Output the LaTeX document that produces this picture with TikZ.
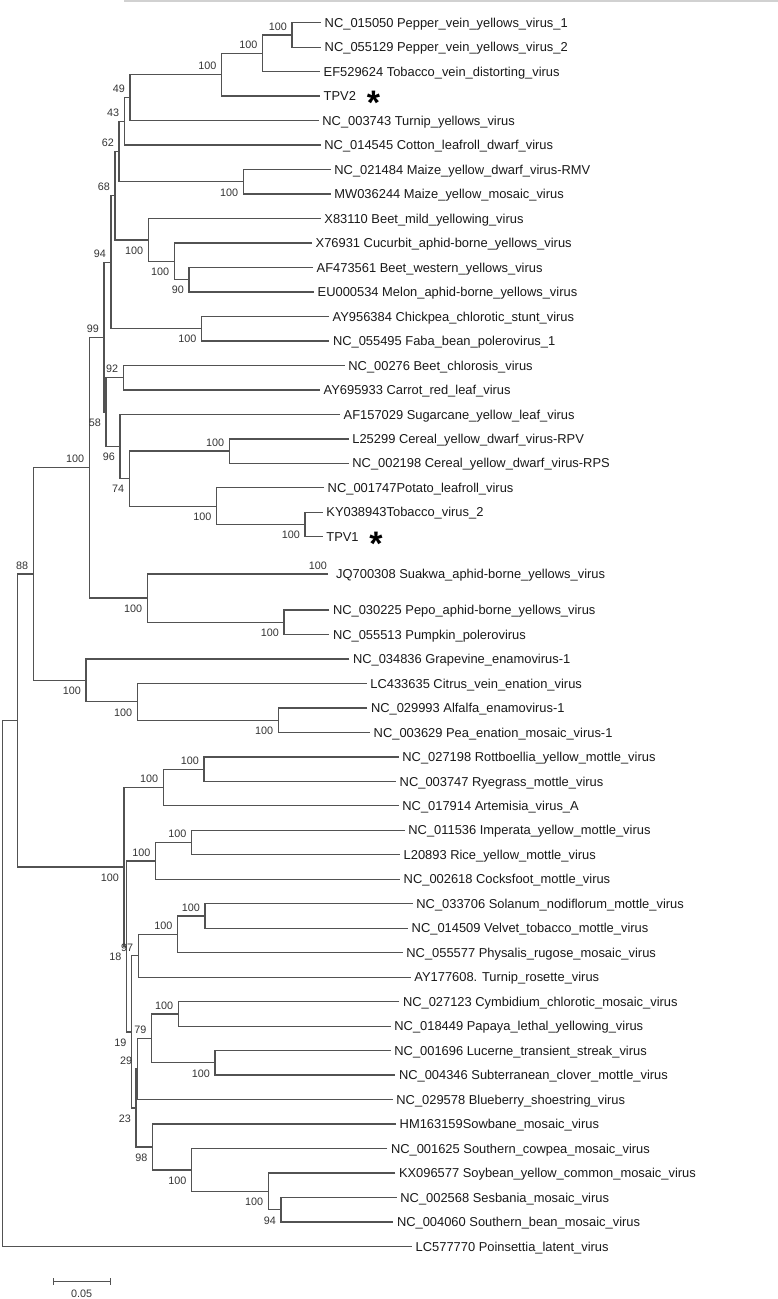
\documentclass[tikz,border=0pt]{standalone}
\usepackage{fontspec}
\setmainfont{Liberation Sans}
\tikzset{br/.style={line width=1.25pt,black!68},
taxon/.style={anchor=west,inner xsep=3.5pt,inner ysep=0pt,text height=9.2pt,text depth=0pt,font=\fontsize{12.9}{14}\selectfont,text=black!90},
bs/.style={inner sep=0pt,font=\fontsize{10.8}{12}\selectfont,text=black!80},
bsup/.style={bs,anchor=south east,xshift=-5pt,yshift=4.5pt},
bsdn/.style={bs,anchor=north east,xshift=-5pt,yshift=-6.5pt},
tpvmark/.style={inner sep=0pt,anchor=base,font=\fontsize{34}{34}\selectfont\bfseries}}
\begin{document}
\begin{tikzpicture}[x=1pt,y=-1pt]
\useasboundingbox (0,0) rectangle (778,1299);
% taxa
\node[taxon] (t1) at (321,22.7) {NC\_015050 Pepper\_vein\_yellows\_virus\_1};
\node[taxon] (t2) at (321,47.2) {NC\_055129 Pepper\_vein\_yellows\_virus\_2};
\node[taxon] (t3) at (320,71.7) {EF529624 Tobacco\_vein\_distorting\_virus};
\node[taxon] (t4) at (320,96.1) {TPV2};
\node[taxon] (t5) at (318.7,120.6) {NC\_003743 Turnip\_yellows\_virus};
\node[taxon] (t6) at (320.7,145.1) {NC\_014545 Cotton\_leafroll\_dwarf\_virus};
\node[taxon] (t7) at (330.7,169.6) {NC\_021484 Maize\_yellow\_dwarf\_virus-RMV};
\node[taxon] (t8) at (330.7,194.1) {MW036244 Maize\_yellow\_mosaic\_virus};
\node[taxon] (t9) at (320.7,218.5) {X83110 Beet\_mild\_yellowing\_virus};
\node[taxon] (t10) at (312,243) {X76931 Cucurbit\_aphid-borne\_yellows\_virus};
\node[taxon] (t11) at (313,267.5) {AF473561 Beet\_western\_yellows\_virus};
\node[taxon] (t12) at (314,292) {EU000534 Melon\_aphid-borne\_yellows\_virus};
\node[taxon] (t13) at (329,316.5) {AY956384 Chickpea\_chlorotic\_stunt\_virus};
\node[taxon] (t14) at (329.3,340.9) {NC\_055495 Faba\_bean\_polerovirus\_1};
\node[taxon] (t15) at (344.7,365.4) {NC\_00276 Beet\_chlorosis\_virus};
\node[taxon] (t16) at (320,389.9) {AY695933 Carrot\_red\_leaf\_virus};
\node[taxon] (t17) at (340,414.4) {AF157029 Sugarcane\_yellow\_leaf\_virus};
\node[taxon] (t18) at (348.7,438.9) {L25299 Cereal\_yellow\_dwarf\_virus-RPV};
\node[taxon] (t19) at (348.7,463.3) {NC\_002198 Cereal\_yellow\_dwarf\_virus-RPS};
\node[taxon] (t20) at (324,487.8) {NC\_001747Potato\_leafroll\_virus};
\node[taxon] (t21) at (322.7,512.3) {KY038943Tobacco\_virus\_2};
\node[taxon] (t22) at (322.7,536.8) {TPV1};
\node[taxon,inner xsep=8pt] (t23) at (328,574) {JQ700308 Suakwa\_aphid-borne\_yellows\_virus};
\node[taxon] (t24) at (329.3,610) {NC\_030225 Pepo\_aphid-borne\_yellows\_virus};
\node[taxon] (t25) at (329.3,634.5) {NC\_055513 Pumpkin\_polerovirus};
\node[taxon] (t26) at (349.3,659) {NC\_034836 Grapevine\_enamovirus-1};
\node[taxon] (t27) at (366.7,683.4) {LC433635 Citrus\_vein\_enation\_virus};
\node[taxon] (t28) at (367.3,707.9) {NC\_029993 Alfalfa\_enamovirus-1};
\node[taxon] (t29) at (370,732.4) {NC\_003629 Pea\_enation\_mosaic\_virus-1};
\node[taxon] (t30) at (398.7,756.9) {NC\_027198 Rottboellia\_yellow\_mottle\_virus};
\node[taxon] (t31) at (396,781.4) {NC\_003747 Ryegrass\_mottle\_virus};
\node[taxon] (t32) at (398.7,805.8) {NC\_017914 Artemisia\_virus\_A};
\node[taxon] (t33) at (404.7,830.3) {NC\_011536 Imperata\_yellow\_mottle\_virus};
\node[taxon] (t34) at (400,854.8) {L20893 Rice\_yellow\_mottle\_virus};
\node[taxon] (t35) at (400,879.3) {NC\_002618 Cocksfoot\_mottle\_virus};
\node[taxon] (t36) at (412.7,903.8) {NC\_033706 Solanum\_nodiflorum\_mottle\_virus};
\node[taxon] (t37) at (408,928.2) {NC\_014509 Velvet\_tobacco\_mottle\_virus};
\node[taxon] (t38) at (402.7,952.7) {NC\_055577 Physalis\_rugose\_mosaic\_virus};
\node[taxon] (t39) at (410.7,977.2) {AY177608. Turnip\_rosette\_virus};
\node[taxon] (t40) at (399.3,1001.7) {NC\_027123 Cymbidium\_chlorotic\_mosaic\_virus};
\node[taxon] (t41) at (390.7,1026.2) {NC\_018449 Papaya\_lethal\_yellowing\_virus};
\node[taxon] (t42) at (390.7,1050.6) {NC\_001696 Lucerne\_transient\_streak\_virus};
\node[taxon] (t43) at (395.3,1075.1) {NC\_004346 Subterranean\_clover\_mottle\_virus};
\node[taxon] (t44) at (392.7,1099.6) {NC\_029578 Blueberry\_shoestring\_virus};
\node[taxon] (t45) at (396,1124.1) {HM163159Sowbane\_mosaic\_virus};
\node[taxon] (t46) at (387.3,1148.6) {NC\_001625 Southern\_cowpea\_mosaic\_virus};
\node[taxon] (t47) at (395.3,1173) {KX096577 Soybean\_yellow\_common\_mosaic\_virus};
\node[taxon] (t48) at (396.7,1197.5) {NC\_002568 Sesbania\_mosaic\_virus};
\node[taxon] (t49) at (393.3,1222) {NC\_004060 Southern\_bean\_mosaic\_virus};
\node[taxon] (t50) at (412,1246.5) {LC577770 Poinsettia\_latent\_virus};
\node[tpvmark] (mk2) at (373.5,114.8) {*};
\node[tpvmark] (mk1) at (376,555.5) {*};
% inner nodes
\coordinate (nA) at (292,34.95);
\coordinate (nB) at (262.7,53.3);
\coordinate (nC) at (221.7,74.7);
\coordinate (nD) at (130,97.65);
\coordinate (nE) at (124.3,121.4);
\coordinate (nG) at (243.3,181.85);
\coordinate (nF) at (119,151.6);
\coordinate (nK) at (189,279.75);
\coordinate (nJ) at (174.3,261.4);
\coordinate (nI) at (148.3,239.95);
\coordinate (nH) at (115,195.8);
\coordinate (nL) at (201.7,328.7);
\coordinate (nM) at (111,262.25);
\coordinate (nQ) at (123.3,377.65);
\coordinate (nT) at (229.3,451.1);
\coordinate (nV) at (305,524.55);
\coordinate (nU) at (216.7,506.2);
\coordinate (nS) at (129.3,478.65);
\coordinate (nR) at (120,446.5);
\coordinate (nP) at (106,412.1);
\coordinate (nN) at (104,337.2);
\coordinate (nX) at (284,622.25);
\coordinate (nW) at (147.3,598.1);
\coordinate (nY) at (89.3,467.65);
\coordinate (nAC) at (278.3,720.15);
\coordinate (nAB) at (137.3,701.8);
\coordinate (nAA) at (86,680.4);
\coordinate (nZ) at (33.3,574);
\coordinate (nAG) at (204,769.15);
\coordinate (nAF) at (163.3,787.5);
\coordinate (nAI) at (191.7,842.55);
\coordinate (nAH) at (155.7,860.9);
\coordinate (nAJ) at (205,916);
\coordinate (nAK) at (177.7,934.35);
\coordinate (nAL) at (138.3,955.8);
\coordinate (nAN) at (178.3,1013.95);
\coordinate (nAO) at (215,1062.85);
\coordinate (nAM) at (151.7,1038.4);
\coordinate (nAP) at (137.3,1069);
\coordinate (nAT) at (281,1209.75);
\coordinate (nAS) at (268.3,1191.4);
\coordinate (nAR) at (191.7,1170);
\coordinate (nAQ) at (152.7,1147.05);
\coordinate (nAU) at (136,1108);
\coordinate (nAV) at (131.7,1031.9);
\coordinate (nAY) at (126.7,946.4);
\coordinate (nAE) at (124,866.95);
\coordinate (nAD) at (17.3,720.5);
\coordinate (root) at (2.7,983.5);
% branches
\draw[br] (t1) -| (nA) |- (t2);
\draw[br] (nA) -| (nB) |- (t3);
\draw[br] (nB) -| (nC) |- (t4);
\draw[br] (nC) -| (nD) |- (t5);
\draw[br] (nD) -| (nE) |- (t6);
\draw[br] (t7) -| (nG) |- (t8);
\draw[br] (nE) -| (nF) |- (nG);
\draw[br] (t11) -| (nK) |- (t12);
\draw[br] (t10) -| (nJ) |- (nK);
\draw[br] (t9) -| (nI) |- (nJ);
\draw[br] (nF) -| (nH) |- (nI);
\draw[br] (t13) -| (nL) |- (t14);
\draw[br] (nH) -| (nM) |- (nL);
\draw[br] (t15) -| (nQ) |- (t16);
\draw[br] (t18) -| (nT) |- (t19);
\draw[br] (t21) -| (nV) |- (t22);
\draw[br] (t20) -| (nU) |- (nV);
\draw[br] (nT) -| (nS) |- (nU);
\draw[br] (t17) -| (nR) |- (nS);
\draw[br] (nQ) -| (nP) |- (nR);
\draw[br] (nM) -| (nN) |- (nP);
\draw[br] (t24) -| (nX) |- (t25);
\draw[br] (t23) -| (nW) |- (nX);
\draw[br] (nN) -| (nY) |- (nW);
\draw[br] (t28) -| (nAC) |- (t29);
\draw[br] (t27) -| (nAB) |- (nAC);
\draw[br] (t26) -| (nAA) |- (nAB);
\draw[br] (nY) -| (nZ) |- (nAA);
\draw[br] (t30) -| (nAG) |- (t31);
\draw[br] (nAG) -| (nAF) |- (t32);
\draw[br] (t33) -| (nAI) |- (t34);
\draw[br] (nAI) -| (nAH) |- (t35);
\draw[br] (t36) -| (nAJ) |- (t37);
\draw[br] (nAJ) -| (nAK) |- (t38);
\draw[br] (nAK) -| (nAL) |- (t39);
\draw[br] (t40) -| (nAN) |- (t41);
\draw[br] (t42) -| (nAO) |- (t43);
\draw[br] (nAN) -| (nAM) |- (nAO);
\draw[br] (nAM) -| (nAP) |- (t44);
\draw[br] (t48) -| (nAT) |- (t49);
\draw[br] (t47) -| (nAS) |- (nAT);
\draw[br] (t46) -| (nAR) |- (nAS);
\draw[br] (t45) -| (nAQ) |- (nAR);
\draw[br] (nAP) -| (nAU) |- (nAQ);
\draw[br] (nAL) -| (nAV) |- (nAU);
\draw[br] (nAH) -| (nAY) |- (nAV);
\draw[br] (nAF) -| (nAE) |- (nAY);
\draw[br] (nZ) -| (nAD) |- (nAE);
\draw[br] (nAD) -| (root) |- (t50);
% bootstrap values
\node[bsup] (bA) at (nA) {100};
\node[bsup] (bB) at (nB) {100};
\node[bsup] (bC) at (nC) {100};
\node[bsup] (bD) at (nD) {49};
\node[bsup] (bE) at (nE) {43};
\node[bsup] (bF) at (nF) {62};
\node[bsdn] (bG) at (nG) {100};
\node[bsup] (bH) at (nH) {68};
\node[bsdn] (bI) at (nI) {100};
\node[bsdn] (bJ) at (nJ) {100};
\node[bsdn] (bK) at (nK) {90};
\node[bsdn] (bL) at (nL) {100};
\node[bsup] (bM) at (nM) {94};
\node[bsup] (bN) at (nN) {99};
\node[bsdn] (bP) at (nP) {58};
\node[bsup] (bQ) at (nQ) {92};
\node[bsdn] (bR) at (nR) {96};
\node[bsdn] (bS) at (nS) {74};
\node[bsup] (bT) at (nT) {100};
\node[bsdn] (bU) at (nU) {100};
\node[bsdn] (bV) at (nV) {100};
\node[bs,anchor=south east] (bJQ) at (327,569.5) {100};
\node[bsdn] (bW) at (nW) {100};
\node[bsdn] (bX) at (nX) {100};
\node[bsup] (bY) at (nY) {100};
\node[bsup] (bZ) at (nZ) {88};
\node[bsdn] (bAA) at (nAA) {100};
\node[bsdn] (bAB) at (nAB) {100};
\node[bsdn] (bAC) at (nAC) {100};
\node[bsdn] (bAE) at (nAE) {100};
\node[bsup] (bAF) at (nAF) {100};
\node[bsup] (bAG) at (nAG) {100};
\node[bsup] (bAH) at (nAH) {100};
\node[bsup] (bAI) at (nAI) {100};
\node[bsdn] (bAY) at (nAY) {18};
\node[bsup] (bAL) at (nAL) {97};
\node[bsup] (bAK) at (nAK) {100};
\node[bsup] (bAJ) at (nAJ) {100};
\node[bsdn] (bAV) at (nAV) {19};
\node[bsup] (bAM) at (nAM) {79};
\node[bsup] (bAN) at (nAN) {100};
\node[bsdn] (bAO) at (nAO) {100};
\node[bsup] (bAP) at (nAP) {29};
\node[bsdn] (bAU) at (nAU) {23};
\node[bsdn] (bAQ) at (nAQ) {98};
\node[bsdn] (bAR) at (nAR) {100};
\node[bsdn] (bAS) at (nAS) {100};
\node[bsdn] (bAT) at (nAT) {94};
% scale bar and top rule
\coordinate (sbL) at (53.3,1281.7);
\coordinate (sbR) at (110,1281.7);
\draw[br,line width=0.9pt] (sbL) -- (sbR) (sbL) ++(0,-3.5) -- ++(0,7) (sbR) ++(0,-3.5) -- ++(0,7);
\node[bs] (sblab) at (81.7,1293.3) {0.05};
\coordinate (rimL) at (124,1);
\coordinate (rimR) at (778,1);
\draw[black!18,line width=1.6pt] (rimL) -- (rimR);
\end{tikzpicture}
\end{document}
